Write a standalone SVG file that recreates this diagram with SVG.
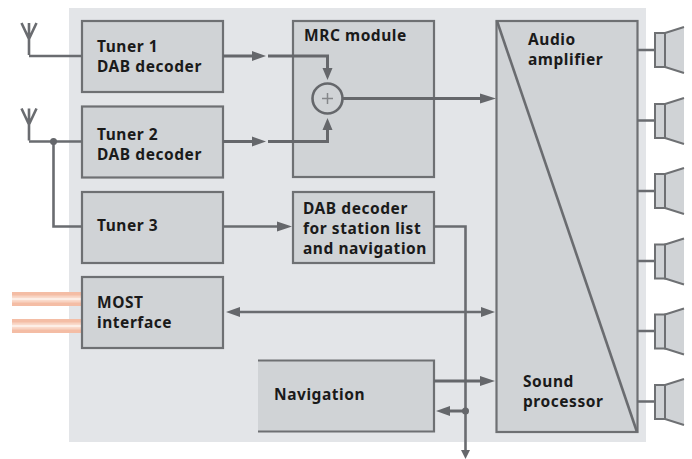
<svg xmlns="http://www.w3.org/2000/svg" width="692" height="459" viewBox="0 0 692 459">
<style>
.box{fill:#d0d3d6;stroke:#6e7073;stroke-width:2.2}
.t{font-family:"Noto Sans","Open Sans",sans-serif;font-size:15.500px;font-weight:700;letter-spacing:0.550px;fill:#1a1a1a}
.w{fill:none;stroke:#6a6c70;stroke-width:2.600}
.w2{fill:none;stroke:#65676b;stroke-width:3}
.h{fill:#65676b}
.spk{fill:#d0d3d6;stroke:#6e7073;stroke-width:2}
.cone{fill:#d0d3d6;stroke:none}
.most{fill:none;stroke:#f4bda5;stroke-width:14}
.most1{fill:none;stroke:#f8d3c2;stroke-width:7}
.most2{fill:none;stroke:#fdeee6;stroke-width:2.500}
</style>
<defs>
<g id="sp"><path class="cone" d="M665 -17L684 -23V23L665 17Z"/><path class="spk" style="fill:none" d="M684 -23L665 -17V17L684 23"/><rect class="spk" x="655" y="-17" width="10" height="34"/></g>
<path id="ant" class="w" d="M21.500 -33L29 -17L36.500 -33M29 -33V-1"/>
</defs>
<rect x="69" y="8" width="577" height="434" fill="#e3e5e8"/>
<g id="most-lines">
<path class="most" d="M12 299H82M12 326H82"/>
<path class="most1" d="M12 299H82M12 326H82"/>
<path class="most2" d="M12 299H82M12 326H82"/>
</g>
<g id="tuner1"><rect class="box" x="82" y="21" width="141" height="71"/><text class="t"><tspan x="97" y="52">Tuner 1</tspan><tspan x="97" y="72">DAB decoder</tspan></text></g>
<g id="tuner2"><rect class="box" x="82" y="106.500" width="141" height="71"/><text class="t"><tspan x="97" y="140">Tuner 2</tspan><tspan x="97" y="160">DAB decoder</tspan></text></g>
<g id="tuner3"><rect class="box" x="82" y="192" width="141" height="71"/><text class="t" x="97" y="231">Tuner 3</text></g>
<g id="most"><rect class="box" x="82" y="277" width="141" height="71"/><text class="t"><tspan x="97" y="308">MOST</tspan><tspan x="97" y="328">interface</tspan></text></g>
<g id="mrc"><rect class="box" x="293" y="21" width="141" height="156"/><text class="t" x="304" y="41">MRC module</text></g>
<g id="dab"><rect class="box" x="293" y="192" width="141" height="71"/><text class="t"><tspan x="303" y="214">DAB decoder</tspan><tspan x="303" y="234">for station list</tspan><tspan x="303" y="254">and navigation</tspan></text></g>
<g id="navigation"><rect x="258" y="360" width="176" height="72" fill="#d0d3d6"/><path class="box" style="fill:none" d="M258 360.500H434V431.500H258"/><text class="t" x="274" y="400">Navigation</text></g>
<g id="amp"><rect class="box" x="496.500" y="21" width="141" height="411"/><path class="w" d="M497 21L637 432"/><text class="t"><tspan x="528" y="45">Audio</tspan><tspan x="528" y="65">amplifier</tspan></text><text class="t"><tspan x="523" y="387">Sound</tspan><tspan x="523" y="407">processor</tspan></text></g>
<g id="connectors">
<use href="#ant" transform="translate(0,56)"/>
<use href="#ant" transform="translate(0,141.500)"/>
<path class="w" d="M29 56H82M29 141.500H82M53.500 141.500V226.500H82"/>
<circle class="h" cx="53.500" cy="141.500" r="3.500"/>
<path class="w2" d="M223 56H255M268 56H327.500V70M223 141.500H255M268 141.500H327.500V130"/>
<path class="h" d="M252 51L266 56L252 61ZM252 136.500L266 141.500L252 146.500ZM322.500 68H332.500L327.500 80ZM322.500 130H332.500L327.500 118Z"/>
<circle cx="327.500" cy="98.500" r="15" fill="#d0d3d6" stroke="#65676b" stroke-width="2.600"/>
<path d="M322 98.500H333M327.500 93V104" stroke="#85878a" stroke-width="1.500" fill="none"/>
<path class="w2" d="M342.500 98.500H482"/>
<path class="h" d="M480 93.500L496 98.500L480 103.500Z"/>
<path class="w" d="M223 226.500H280"/>
<path class="h" d="M277 221.500L292 226.500L277 231.500Z"/>
<path class="w" d="M434 226.500H465.500V452"/>
<path class="h" d="M461 450H470L465.500 459Z"/>
<path class="w" d="M238 312H484"/>
<path class="h" d="M226 312L240 307V317ZM481 307L495 312L481 317Z"/>
<path class="w2" d="M434 381H482"/>
<path class="h" d="M480 376L495 381L480 386Z"/>
<path class="w2" d="M446 411H465.500"/>
<path class="h" d="M436 411L450 406V416Z"/>
<circle class="h" cx="465.500" cy="411" r="3.500"/>
<path class="w" d="M637 50H655M637 120.500H655M637 191H655M637 261H655M637 331H655M637 401.500H655"/>
</g>
<g id="speaker1"><use href="#sp" transform="translate(0,50)"/></g>
<g id="speaker2"><use href="#sp" transform="translate(0,121)"/></g>
<g id="speaker3"><use href="#sp" transform="translate(0,191)"/></g>
<g id="speaker4"><use href="#sp" transform="translate(0,261.500)"/></g>
<g id="speaker5"><use href="#sp" transform="translate(0,331.500)"/></g>
<g id="speaker6"><use href="#sp" transform="translate(0,402)"/></g>
</svg>
